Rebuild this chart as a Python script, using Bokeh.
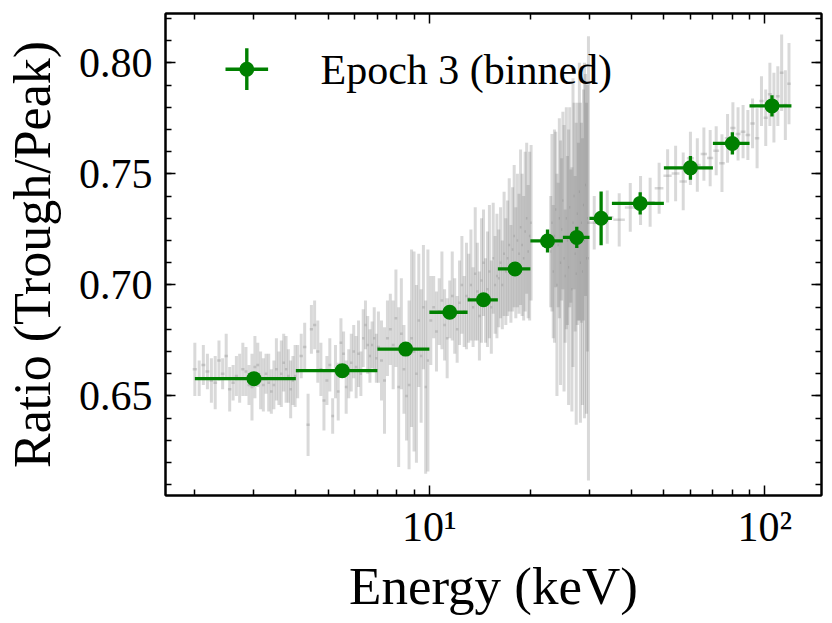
import numpy as np
from bokeh.plotting import figure
from bokeh.models import (Range1d, FixedTicker, SingleIntervalTicker, LinearAxis, LogAxis,
                          PrintfTickFormatter, CustomJSTickFormatter, Label, BoxAnnotation,
                          ColumnDataSource)
from bokeh.embed import file_html
from bokeh.resources import INLINE

# ---------------- binned data (green) ----------------
bin_lo = [2, 4, 7, 10, 13, 16, 20, 25, 30, 35, 50, 70, 90]
bin_hi = [4, 7, 10, 13, 16, 20, 25, 30, 35, 50, 70, 90, 120]
bin_energy = [3.0, 5.5, 8.5, 11.5, 14.5, 18.0, 22.5, 27.5, 32.5, 42.5, 60.0, 80.0, 105.0]
bin_ratio = [0.6578, 0.6614, 0.6711, 0.6877, 0.6933, 0.7072, 0.7198, 0.7214, 0.7300,
             0.7367, 0.7527, 0.7637, 0.7806]
bin_err = [0.0015, 0.0015, 0.002, 0.002, 0.002, 0.002, 0.0052, 0.0048, 0.0121,
           0.0050, 0.0053, 0.0050, 0.0048]

# ---------------- unbinned data (grey) ----------------
e_a = [2.00, 2.06, 2.12, 2.18, 2.24, 2.30, 2.36, 2.42, 2.48, 2.54,
       2.60, 2.66, 2.72, 2.78, 2.84, 2.90, 2.96, 3.02, 3.08, 3.14,
       3.20, 3.26, 3.32, 3.38, 3.44, 3.50, 3.56, 3.62, 3.68, 3.74,
       3.80, 3.86, 3.92, 3.98]
r_a = [0.662, 0.658, 0.664, 0.661, 0.657, 0.656, 0.666, 0.660, 0.668, 0.653,
       0.656, 0.659, 0.658, 0.662, 0.661, 0.655, 0.654, 0.663, 0.664, 0.657,
       0.655, 0.660, 0.656, 0.652, 0.655, 0.662, 0.658, 0.660, 0.665, 0.662,
       0.659, 0.653, 0.657, 0.659]
s_a = [0.012, 0.008, 0.009, 0.008, 0.010, 0.012, 0.009, 0.007, 0.010, 0.010,
       0.008, 0.009, 0.011, 0.012, 0.011, 0.009, 0.015, 0.014, 0.010, 0.013,
       0.012, 0.009, 0.013, 0.010, 0.011, 0.014, 0.012, 0.015, 0.013, 0.015,
       0.012, 0.013, 0.011, 0.014]

e_b = [4.05, 4.15, 4.25, 4.35, 4.45, 4.55, 4.65, 4.75, 4.85, 4.95,
       5.05, 5.15, 5.25, 5.35, 5.45, 5.55, 5.65, 5.75, 5.85, 5.95,
       6.05, 6.15, 6.25, 6.35, 6.45, 6.55, 6.65, 6.75, 6.85, 6.95]
r_b = [0.661, 0.668, 0.672, 0.637, 0.680, 0.682, 0.670, 0.662, 0.648, 0.657,
       0.664, 0.641, 0.661, 0.652, 0.674, 0.669, 0.654, 0.660, 0.665, 0.670,
       0.663, 0.669, 0.660, 0.676, 0.682, 0.673, 0.668, 0.673, 0.676, 0.667]
s_b = [0.012, 0.010, 0.011, 0.014, 0.011, 0.011, 0.014, 0.012, 0.0135, 0.011,
       0.012, 0.008, 0.012, 0.013, 0.011, 0.010, 0.012, 0.011, 0.013, 0.012,
       0.014, 0.015, 0.010, 0.013, 0.011, 0.013, 0.012, 0.0105, 0.014, 0.011]

e_c = [7.05, 7.20, 7.35, 7.50, 7.65, 7.80, 7.95, 8.10, 8.25, 8.40,
       8.55, 8.70, 8.85, 9.00, 9.15, 9.30, 9.45, 9.60, 9.75, 9.90]
r_c = [0.672, 0.666, 0.657, 0.676, 0.680, 0.673, 0.685, 0.654, 0.678, 0.662,
       0.650, 0.655, 0.676, 0.670, 0.660, 0.684, 0.668, 0.690, 0.654, 0.666]
s_c = [0.016, 0.018, 0.024, 0.017, 0.016, 0.020, 0.022, 0.036, 0.025, 0.020,
       0.020, 0.038, 0.040, 0.045, 0.040, 0.030, 0.030, 0.028, 0.039, 0.050]

e_d = [10.1, 10.3, 10.5, 10.7, 10.9, 11.1, 11.3, 11.5, 11.7, 11.9,
       12.1, 12.3, 12.5, 12.7, 12.9]
r_d = [0.684, 0.690, 0.679, 0.688, 0.693, 0.682, 0.676, 0.689, 0.695, 0.686,
       0.680, 0.692, 0.700, 0.688, 0.695]
s_d = [0.020, 0.014, 0.018, 0.015, 0.022, 0.016, 0.018, 0.013, 0.020, 0.017,
       0.015, 0.019, 0.022, 0.016, 0.024]

e_e = [13.1, 13.3, 13.5, 13.7, 13.9, 14.1, 14.3, 14.5, 14.7, 14.9,
       15.1, 15.3, 15.5, 15.7, 15.9]
r_e = [0.694, 0.700, 0.690, 0.705, 0.697, 0.686, 0.702, 0.710, 0.693, 0.698,
       0.706, 0.690, 0.712, 0.700, 0.704]
s_e = [0.020, 0.025, 0.018, 0.030, 0.022, 0.020, 0.028, 0.024, 0.019, 0.026,
       0.030, 0.021, 0.025, 0.022, 0.028]

e_f = [16.1, 16.3, 16.5, 16.7, 16.9, 17.1, 17.3, 17.5, 17.7, 17.9,
       18.1, 18.3, 18.5, 18.7, 18.9, 19.1, 19.3, 19.5, 19.7, 19.9, 20.1]
r_f = [0.703, 0.710, 0.700, 0.714, 0.706, 0.712, 0.718, 0.705, 0.716, 0.722,
       0.710, 0.720, 0.714, 0.726, 0.718, 0.712, 0.724, 0.730, 0.715, 0.722, 0.728]
s_f = [0.022, 0.025, 0.020, 0.028, 0.024, 0.026, 0.030, 0.022, 0.028, 0.032,
       0.025, 0.030, 0.027, 0.035, 0.032, 0.028, 0.036, 0.034, 0.030, 0.038, 0.035]

e_h = [23.0, 23.2, 23.4, 23.6, 23.8, 24.0, 24.2, 24.4, 24.6, 24.8,
       25.0, 25.2, 25.4, 25.6, 25.8, 26.0, 26.2, 26.4, 26.6, 26.8,
       27.0, 27.2, 27.4, 27.6, 27.8, 28.0, 28.2, 28.4, 28.6, 28.8,
       29.0, 29.2, 29.4, 29.6, 29.8]
r_h = [0.715, 0.728, 0.706, 0.722, 0.734, 0.700, 0.718, 0.730, 0.710, 0.725,
       0.738, 0.712, 0.704, 0.730, 0.720, 0.708, 0.735, 0.722, 0.698, 0.728,
       0.740, 0.714, 0.705, 0.732, 0.724, 0.742, 0.710, 0.728, 0.706, 0.736,
       0.720, 0.745, 0.712, 0.730, 0.712]
s_h = [0.025, 0.040, 0.030, 0.048, 0.035, 0.050, 0.028, 0.045, 0.055, 0.032,
       0.040, 0.060, 0.030, 0.050, 0.038, 0.062, 0.045, 0.030, 0.055, 0.065,
       0.042, 0.035, 0.068, 0.050, 0.040, 0.058, 0.072, 0.045, 0.060, 0.052,
       0.080, 0.050, 0.070, 0.060, 0.100]

e_i = [31.0, 33.9, 36.8, 39.7, 42.6, 45.5, 48.4, 51.3, 54.2, 57.1,
       60.0, 62.9, 65.8, 68.7, 71.6, 74.5, 77.4, 80.3, 83.2, 86.1,
       89.0, 91.9, 94.8, 97.7, 100.6, 103.5, 106.4, 109.3, 112.2, 115.1, 118.0]
r_i = [0.728, 0.7305, 0.7293, 0.7349, 0.738, 0.7372, 0.7435, 0.7491, 0.7502, 0.7466,
       0.757, 0.754, 0.7589, 0.7571, 0.7604, 0.7548, 0.766, 0.7707, 0.768, 0.769,
       0.7675, 0.7727, 0.766, 0.7828, 0.7753, 0.7858, 0.7798, 0.785, 0.7955, 0.781, 0.7906]
s_i = [0.012, 0.012, 0.012, 0.011, 0.011, 0.011, 0.0115, 0.012, 0.0125, 0.013,
       0.012, 0.012, 0.012, 0.0127, 0.011, 0.013, 0.011, 0.0116, 0.012, 0.012,
       0.0112, 0.0112, 0.0135, 0.0112, 0.0127, 0.0142, 0.0157, 0.0135, 0.0172, 0.0157, 0.0183]

# half channel width of each group (keV)
grey_groups = [(e_a, r_a, s_a, 0.03), (e_b, r_b, s_b, 0.05), (e_c, r_c, s_c, 0.075),
               (e_d, r_d, s_d, 0.1), (e_e, r_e, s_e, 0.1), (e_f, r_f, s_f, 0.1),
               (e_h, r_h, s_h, 0.1), (e_i, r_i, s_i, 1.45)]

# ticks
x_ticks = [10, 100]
x_tick_labels = ["10\u00b9", "10\u00b2"]
x_minor = [2, 3, 4, 5, 6, 7, 8, 9, 20, 30, 40, 50, 60, 70, 80, 90]

legend_label = "Epoch 3 (binned)"
x_label = "Energy (keV)"
y_label = "Ratio (Trough/Peak)"

FONT = "Liberation Serif"
GREEN = "#008000"

# ---------------- build sources ----------------
ge, gr, gs, gx = [], [], [], []
for e, r, s, hw in grey_groups:
    ge += e; gr += r; gs += s; gx += [hw] * len(e)
ge, gr, gs, gx = map(np.array, (ge, gr, gs, gx))
grey_src = ColumnDataSource(dict(x=ge, y=gr, lo=gr - gs, hi=gr + gs, xl=ge - gx, xh=ge + gx))

be = np.array(bin_energy); br = np.array(bin_ratio); bs = np.array(bin_err)
bin_src = ColumnDataSource(dict(x=be, y=br, lo=br - bs, hi=br + bs,
                                xl=np.array(bin_lo, float), xh=np.array(bin_hi, float)))

p = figure(x_axis_type="log", x_range=Range1d(1.635, 147.5), y_range=Range1d(0.6052, 0.8222),
           frame_width=656, frame_height=482,
           min_border_left=163, min_border_right=5, min_border_top=13, min_border_bottom=120,
           output_backend="svg", toolbar_location=None)
p.grid.visible = False
p.outline_line_color = "black"
p.outline_line_width = 2
p.background_fill_color = "white"
p.border_fill_color = "white"

# grey unbinned
p.segment(x0="x", y0="lo", x1="x", y1="hi", source=grey_src,
          line_color="#808080", line_alpha=0.3, line_width=3)
p.segment(x0="xl", y0="y", x1="xh", y1="y", source=grey_src,
          line_color="#808080", line_alpha=0.3, line_width=2.5)

# green binned
p.segment(x0="xl", y0="y", x1="xh", y1="y", source=bin_src, line_color=GREEN, line_width=3.3)
p.segment(x0="x", y0="lo", x1="x", y1="hi", source=bin_src, line_color=GREEN, line_width=3.3)
p.scatter(x="x", y="y", source=bin_src, marker="circle", size=15,
          fill_color=GREEN, line_color=GREEN, line_width=0)


def style(ax, labels):
    ax.axis_line_color = "black"
    ax.axis_line_width = 2
    ax.major_tick_line_color = "black"
    ax.minor_tick_line_color = "black"
    ax.major_tick_line_width = 1.5
    ax.minor_tick_line_width = 1.5
    ax.major_tick_in = 10
    ax.major_tick_out = 0
    ax.minor_tick_in = 6
    ax.minor_tick_out = 0
    if labels:
        ax.major_label_text_font = FONT
        ax.major_label_text_font_size = "42px"
        ax.major_label_text_color = "black"
    else:
        ax.major_label_text_font_size = "0px"
        ax.major_label_standoff = 0
        ax.formatter = CustomJSTickFormatter(code="return ''")


xt = FixedTicker(ticks=x_ticks, minor_ticks=x_minor)
yt = SingleIntervalTicker(interval=0.05, num_minor_ticks=5)

xb = p.xaxis[0]
xb.ticker = xt
style(xb, True)
xb.major_label_overrides = dict(zip(x_ticks, x_tick_labels))
xb.major_label_standoff = 8
xb.axis_label = x_label
xb.axis_label_text_font = FONT
xb.axis_label_text_font_size = "53px"
xb.axis_label_text_font_style = "normal"
xb.axis_label_text_color = "black"
xb.axis_label_standoff = 4

yl = p.yaxis[0]
yl.ticker = yt
style(yl, True)
yl.formatter = PrintfTickFormatter(format="%.2f")
yl.major_label_standoff = 13
yl.axis_label = y_label
yl.axis_label_text_font = FONT
yl.axis_label_text_font_size = "52px"
yl.axis_label_text_font_style = "normal"
yl.axis_label_text_color = "black"
yl.axis_label_standoff = 15

xtop = LogAxis(ticker=FixedTicker(ticks=x_ticks, minor_ticks=x_minor))
style(xtop, False)
p.add_layout(xtop, "above")
yr = LinearAxis(ticker=SingleIntervalTicker(interval=0.05, num_minor_ticks=5))
style(yr, False)
p.add_layout(yr, "right")

# legend
icon = [(60.0, 102.6, 424.5, 427.9, 0), (79.6, 83.0, 405.5, 447.2, 0), (73.8, 88.8, 418.7, 433.7, 8)]
for l, r, b, t, rad in icon:
    p.add_layout(BoxAnnotation(left=l, right=r, bottom=b, top=t,
                               left_units="screen", right_units="screen",
                               bottom_units="screen", top_units="screen",
                               fill_color=GREEN, fill_alpha=1.0, line_color=None,
                               border_radius=rad))
p.add_layout(Label(x=155, y=426, x_units="screen", y_units="screen", text=legend_label,
                   text_align="left", text_baseline="alphabetic",
                   text_font=FONT, text_font_size="42px", text_color="black"))

open("out.html", "w").write(file_html(p, INLINE))
